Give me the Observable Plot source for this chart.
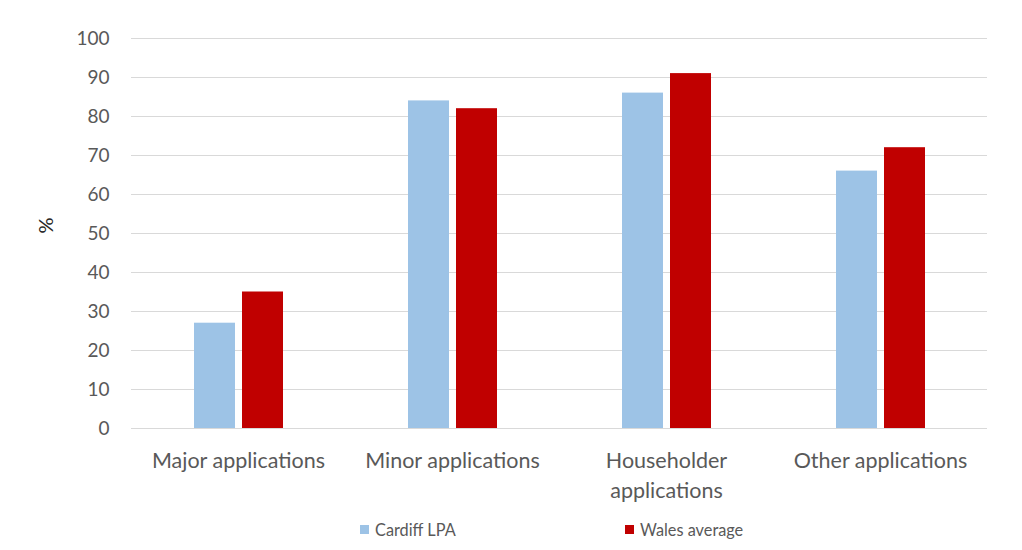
<!DOCTYPE html>
<html>
<head>
<meta charset="utf-8">
<script src="https://cdn.jsdelivr.net/npm/d3@7"></script>
<script src="https://cdn.jsdelivr.net/npm/@observablehq/plot@0.6"></script>
<style>
  body { margin: 0; background: #ffffff; font-family: Lato, "Open Sans", sans-serif; }
  #wrap { position: relative; width: 1022px; height: 550px; }
  #legend { position: absolute; top: 520px; left: 0; width: 1022px; height: 20px; font-size: 16.3px; color: #595959; }
  .item { position: absolute; top: 0; display: flex; align-items: center; }
  .sw { width: 9px; height: 9px; margin-right: 6px; }
</style>
</head>
<body>
<div id="wrap">
  <div id="chart"></div>
  <div id="legend"></div>
</div>
<script>
const categories = ["Major applications", "Minor applications", "Householder applications", "Other applications"];
const categoryLabels = ["Major applications", "Minor applications", "Householder\napplications", "Other applications"];
const seriesNames = ["Cardiff LPA", "Wales average"];
const cardiff = [27, 84, 86, 66];
const wales = [35, 82, 91, 72];
const colors = ["#9DC3E6", "#C00000"];
const yTicks = [0, 10, 20, 30, 40, 50, 60, 70, 80, 90, 100];

const data = [];
categories.forEach((c, i) => {
  data.push({category: c, series: seriesNames[0], value: cardiff[i]});
  data.push({category: c, series: seriesNames[1], value: wales[i]});
});
const labelOf = new Map(categories.map((c, i) => [c, categoryLabels[i]]));

const chart = Plot.plot({
  width: 1022,
  height: 505,
  marginLeft: 130,
  marginRight: 35,
  marginTop: 38,
  marginBottom: 77,
  style: {fontFamily: "Lato, 'Open Sans', sans-serif", background: "transparent"},
  fx: {domain: categories, padding: 0},
  x: {domain: seriesNames, paddingInner: 7/48, paddingOuter: 1.26},
  y: {domain: [0, 100]},
  color: {domain: seriesNames, range: colors},
  marks: [
    Plot.gridY(yTicks, {stroke: "#d9d9d9", strokeOpacity: 1, strokeWidth: 1}),
    Plot.barY(data, {fx: "category", x: "series", y: "value", fill: "series"}),
    Plot.axisY(yTicks, {tickSize: 0, tickPadding: 22, fontSize: 19, fill: "#595959", label: null}),
    Plot.axisFx({anchor: "bottom", tickSize: 0, tickPadding: 18, fontSize: 21.5, fill: "#595959", label: null, lineHeight: 1.4, tickFormat: d => labelOf.get(d)}),
    Plot.axisX({ticks: [], label: null}),
    Plot.text([{category: categories[0]}], {fx: "category", frameAnchor: "left", text: () => "%", rotate: -90, dx: -85, fontSize: 20, fill: "#262626"})
  ]
});
document.getElementById("chart").appendChild(chart);

const legend = document.getElementById("legend");
const lefts = [360, 625];
seriesNames.forEach((s, i) => {
  const item = document.createElement("div");
  item.className = "item";
  item.style.left = lefts[i] + "px";
  const sw = document.createElement("div");
  sw.className = "sw";
  sw.style.background = colors[i];
  const t = document.createElement("span");
  t.textContent = s;
  item.appendChild(sw);
  item.appendChild(t);
  legend.appendChild(item);
});
</script>
</body>
</html>
